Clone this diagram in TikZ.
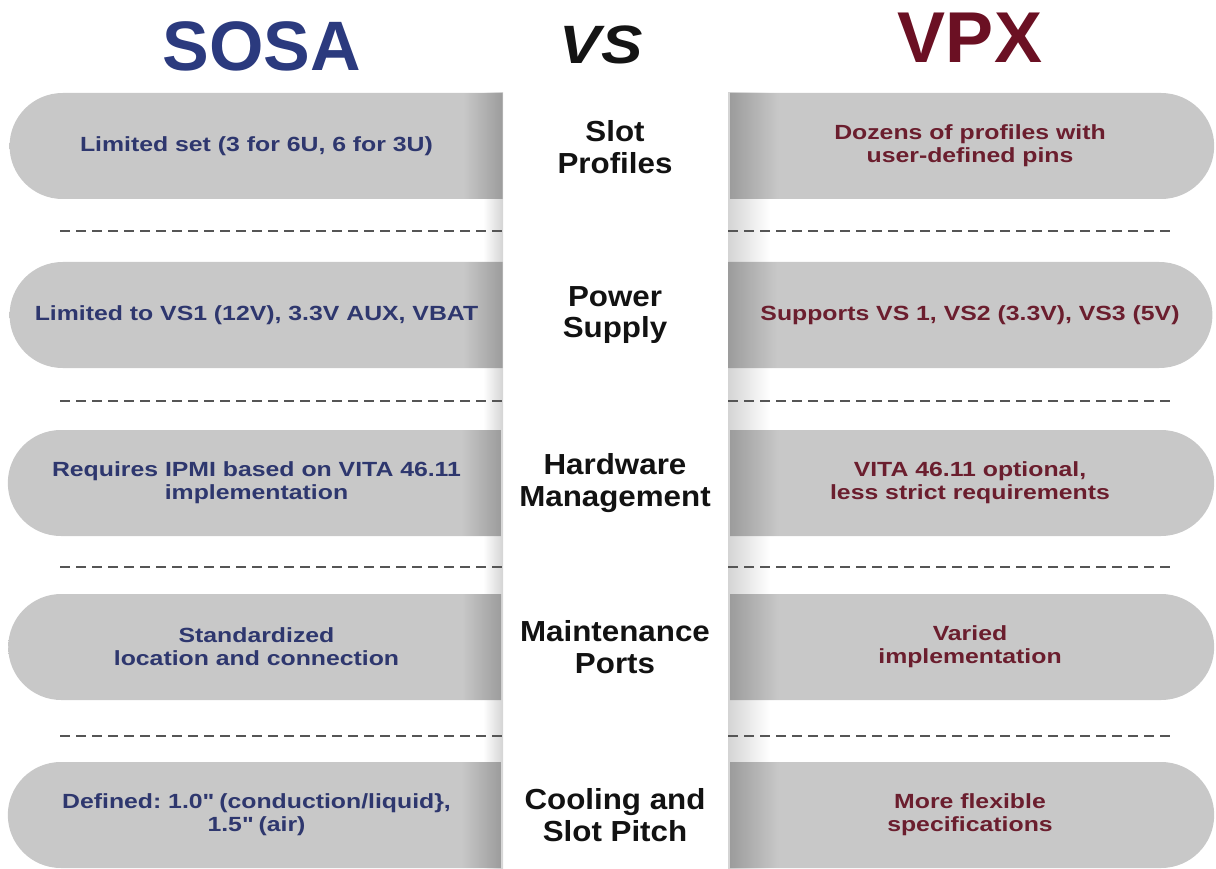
\documentclass[tikz,border=0pt]{standalone}
\usepackage{fontspec}
\setmainfont{Liberation Sans}
\newfontfamily\widesans[FakeStretch=1.21]{Liberation Sans}
\newfontfamily\midsans[FakeStretch=1.08]{Liberation Sans}
\newfontfamily\vssans[FakeStretch=1.15]{Liberation Sans}
\usetikzlibrary{shapes.misc}
\definecolor{pillgray}{HTML}{C8C8C8}
\definecolor{edgegray}{HTML}{9C9C9C}
\definecolor{gapgray}{HTML}{D4D4D4}
\definecolor{sosablue}{HTML}{2B3A7E}
\definecolor{sosatext}{HTML}{2E376E}
\definecolor{vpxred}{HTML}{6B1023}
\definecolor{vpxtext}{HTML}{6B1E2E}
\definecolor{dashgray}{HTML}{555555}
% shadow at the inner end of each pill
\pgfdeclarehorizontalshading{sosaedge}{100bp}{color(0bp)=(pillgray); color(71bp)=(pillgray);
  color(75bp)=(edgegray); color(100bp)=(edgegray)}
\pgfdeclarehorizontalshading{vpxedge}{100bp}{color(0bp)=(edgegray); color(25bp)=(edgegray);
  color(30bp)=(pillgray); color(100bp)=(pillgray)}
\begin{document}
\begin{tikzpicture}[
    x = 1pt, y = -1pt,
    pill/.style = {rounded rectangle, minimum height = 106pt, inner sep = 0pt,
      align = center, font = \widesans\bfseries\frenchspacing\fontsize{20.5}{23}\selectfont},
    sosapill/.style = {pill, rounded rectangle right arc = none, shading = sosaedge,
      minimum width = 493pt, text = sosatext},
    vpxpill/.style = {pill, rounded rectangle left arc = none, shading = vpxedge,
      minimum width = 484pt, text = vpxtext},
    midlabel/.style = {align = center, text = black!93,
      font = \midsans\bfseries\fontsize{29}{31.5}\selectfont},
    sepline/.style = {dashgray, line width = 2pt, dash pattern = on 10pt off 6pt}
  ]
  \useasboundingbox (0,0) rectangle (1216,869);
  % side shadows along the middle column
  \shade[left color = white, right color = gapgray] (483,93) rectangle (503,869);
  \shade[left color = gapgray, right color = white] (728,93) rectangle (770,869);
  % titles
  \node[anchor = base, text = sosablue, font = \bfseries\fontsize{70}{70}\selectfont]
    (sosa) at (262,71) {SOSA};
  \node[anchor = base, text = black!92, font = \vssans\bfseries\itshape\fontsize{54}{54}\selectfont]
    (vs) at (601,64) {VS};
  \node[anchor = base, text = vpxred, font = \bfseries\fontsize{72}{72}\selectfont]
    (vpx) at (970,63) {VPX};
  % SOSA column
  \node[sosapill] (s1) at (256.5,146) {Limited set (3 for 6U, 6 for 3U)};
  \node[sosapill] (s2) at (256.5,315) {Limited to VS1 (12V), 3.3V AUX, VBAT};
  \node[sosapill] (s3) at (256.5,483) {Requires IPMI based on VITA 46.11\\implementation};
  \node[sosapill] (s4) at (256.5,647) {Standardized\\location and connection};
  \node[sosapill] (s5) at (256.5,815) {Defined: 1.0\textquotedbl{} (conduction/liquid\},\\1.5\textquotedbl{} (air)};
  % topics
  \node[midlabel] (slot)  at (615,147) {Slot\\Profiles};
  \node[midlabel] (power) at (615,315) {Power\\Supply};
  \node[midlabel] (hwm)   at (615,483) {Hardware\\Management};
  \node[midlabel] (maint) at (615,647) {Maintenance\\Ports};
  \node[midlabel] (cool)  at (615,815) {Cooling and\\Slot Pitch};
  % VPX column
  \node[vpxpill] (v1) at (970,146) {Dozens of profiles with\\user-defined pins};
  \node[vpxpill] (v2) at (970,315) {Supports VS 1, VS2 (3.3V), VS3 (5V)};
  \node[vpxpill] (v3) at (970,483) {VITA 46.11 optional,\\less strict requirements};
  \node[vpxpill] (v4) at (970,647) {Varied\\implementation};
  \node[vpxpill] (v5) at (970,815) {More flexible\\specifications};
  % separators
  \foreach \y in {231, 401, 567, 736} {
    \draw[sepline] (60,\y) -- (503,\y);
    \draw[sepline] (728,\y) -- (1170,\y);
  }
\end{tikzpicture}
\end{document}
